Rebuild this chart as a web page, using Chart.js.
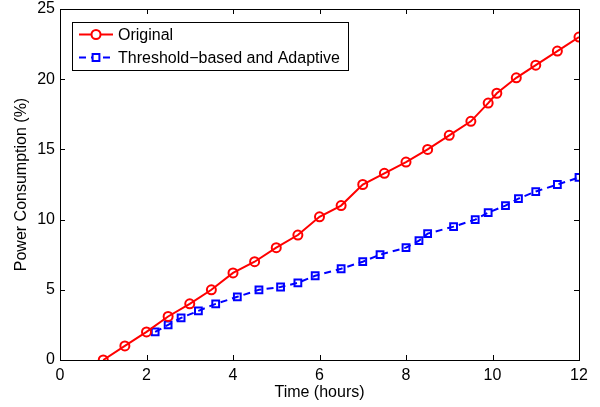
<!DOCTYPE html>
<html>
<head>
<meta charset="utf-8">
<script src="https://cdn.jsdelivr.net/npm/chart.js@4/dist/chart.umd.min.js"></script>
<style>
  body { margin: 0; background: #fff; }
  canvas { display: block; }
</style>
</head>
<body>
<canvas id="chart" width="600" height="407"></canvas>
<script>
// data
const originalHours = [1, 1.5, 2, 2.5, 3, 3.5, 4, 4.5, 5, 5.5, 6, 6.5, 7, 7.5, 8, 8.5, 9, 9.5, 9.9, 10.1, 10.55, 11, 11.5, 12];
const originalPower = [0, 1, 2, 3.1, 4, 5, 6.2, 7, 8, 8.9, 10.2, 11, 12.5, 13.3, 14.1, 15, 16, 17, 18.3, 19, 20.1, 21, 22, 23];
const adaptiveHours = [2.2, 2.5, 2.8, 3.2, 3.6, 4.1, 4.6, 5.1, 5.5, 5.9, 6.5, 7, 7.4, 8, 8.3, 8.5, 9.1, 9.6, 9.9, 10.3, 10.6, 11, 11.5, 12];
const adaptivePower = [2, 2.5, 3, 3.5, 4, 4.5, 5, 5.2, 5.5, 6, 6.5, 7, 7.5, 8, 8.5, 9, 9.5, 10, 10.5, 11, 11.5, 12, 12.5, 13];
const xTicks = [0, 2, 4, 6, 8, 10, 12];
const yTicks = [0, 5, 10, 15, 20, 25];

const FONT = "'Liberation Sans', Arial, Helvetica, sans-serif";

function toPoints(xs, ys) {
    return xs.map((x, i) => ({x: x, y: ys[i]}));
}

// MATLAB style frame: box all round, ticks pointing inward, legend box top left
const matlabFrame = {
    id: 'matlabFrame',
    afterDraw(chart) {
        const c = chart.ctx;
        const a = chart.chartArea;
        const xs = chart.scales.x;
        const ys = chart.scales.y;
        const tl = 5;
        c.save();
        c.strokeStyle = '#000';
        c.lineWidth = 1;
        c.beginPath();
        xTicks.forEach(v => {
            const px = Math.round(xs.getPixelForValue(v)) + 0.5;
            c.moveTo(px, a.bottom); c.lineTo(px, a.bottom - tl);
            c.moveTo(px, a.top); c.lineTo(px, a.top + tl);
        });
        yTicks.forEach(v => {
            const py = Math.round(ys.getPixelForValue(v)) + 0.5;
            c.moveTo(a.left, py); c.lineTo(a.left + tl, py);
            c.moveTo(a.right, py); c.lineTo(a.right - tl, py);
        });
        c.stroke();
        c.strokeRect(Math.round(a.left) + 0.5, Math.round(a.top) + 0.5,
            Math.round(a.right - a.left), Math.round(a.bottom - a.top));

        // legend
        const box = {x: 72.5, y: 22.5, w: 276, h: 48};
        c.fillStyle = '#fff';
        c.fillRect(box.x, box.y, box.w, box.h);
        c.strokeRect(box.x, box.y, box.w, box.h);
        c.font = '16px ' + FONT;
        c.textBaseline = 'middle';
        chart.data.datasets.forEach((ds, i) => {
            const y = 34.5 + i * 23;
            c.strokeStyle = ds.borderColor;
            c.lineWidth = ds.borderWidth;
            c.setLineDash(ds.borderDash || []);
            c.beginPath();
            c.moveTo(79, y); c.lineTo(113, y);
            c.stroke();
            c.setLineDash([]);
            c.fillStyle = '#fff';
            Chart.helpers.drawPoint(c, {
                pointStyle: ds.pointStyle, radius: ds.pointRadius, borderWidth: ds.pointBorderWidth
            }, 96, y);
            c.fillStyle = '#000';
            c.fillText(ds.label, 118, y + 1);
        });
        c.restore();
    }
};

new Chart(document.getElementById('chart'), {
    type: 'line',
    data: {
        datasets: [{
            label: 'Original',
            data: toPoints(originalHours, originalPower),
            borderColor: '#ff0000',
            backgroundColor: 'rgba(0,0,0,0)',
            borderWidth: 2,
            pointStyle: 'circle',
            pointRadius: 4.5,
            pointBorderWidth: 2,
            pointBackgroundColor: 'rgba(0,0,0,0)',
            tension: 0
        }, {
            label: 'Threshold\u2212based and Adaptive',
            data: toPoints(adaptiveHours, adaptivePower),
            borderColor: '#0000ff',
            backgroundColor: 'rgba(0,0,0,0)',
            borderWidth: 2,
            borderDash: [7, 5],
            pointStyle: 'rect',
            pointRadius: 4.8,
            pointBorderWidth: 2,
            pointBackgroundColor: 'rgba(0,0,0,0)',
            tension: 0
        }]
    },
    options: {
        responsive: false,
        animation: false,
        layout: {padding: {top: 9, right: 21, left: 0, bottom: 0}},
        plugins: {
            legend: {display: false},
            tooltip: {enabled: false}
        },
        scales: {
            x: {
                type: 'linear',
                min: 0,
                max: 12,
                afterFit: s => { s.height = 47; s.paddingLeft = 0; s.paddingRight = 0; },
                afterBuildTicks: s => { s.ticks = xTicks.map(v => ({value: v})); },
                grid: {drawOnChartArea: false, drawTicks: false},
                border: {display: true, color: '#000', width: 1},
                ticks: {color: '#000', padding: 6, maxRotation: 0, font: {family: FONT, size: 16}},
                title: {display: true, text: 'Time (hours)', color: '#000',
                    padding: {top: 0, bottom: 5}, font: {family: FONT, size: 16}}
            },
            y: {
                min: 0,
                max: 25,
                afterFit: s => { s.width = 60; s.paddingTop = 0; s.paddingBottom = 0; },
                afterBuildTicks: s => { s.ticks = yTicks.map(v => ({value: v})); },
                grid: {drawOnChartArea: false, drawTicks: false},
                border: {display: true, color: '#000', width: 1},
                ticks: {color: '#000', padding: 5, font: {family: FONT, size: 16}},
                title: {display: true, text: 'Power Consumption (%)', color: '#000',
                    padding: {top: 12, bottom: 0}, font: {family: FONT, size: 16}}
            }
        }
    },
    plugins: [matlabFrame]
});
</script>
</body>
</html>
